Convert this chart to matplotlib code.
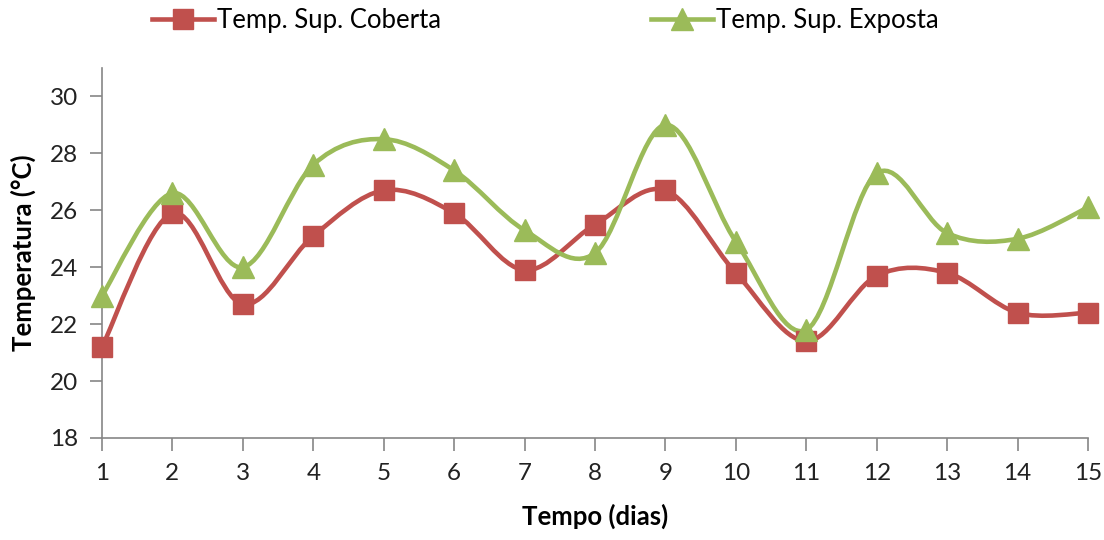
import matplotlib
matplotlib.use("Agg")
import matplotlib.pyplot as plt
from matplotlib.path import Path
from matplotlib.patches import PathPatch
from matplotlib.lines import Line2D
import numpy as np

dias = list(range(1, 16))
coberta = [21.2, 25.9, 22.7, 25.1, 26.7, 25.9, 23.9, 25.5, 26.7, 23.8, 21.4, 23.7, 23.8, 22.4, 22.4]
exposta = [23.0, 26.6, 24.0, 27.6, 28.5, 27.4, 25.3, 24.5, 29.0, 24.9, 21.8, 27.3, 25.2, 25.0, 26.1]
labels = ["Temp. Sup. Coberta", "Temp. Sup. Exposta"]
yticks = [18, 20, 22, 24, 26, 28, 30]

RED = "#C0504D"
GREEN = "#9BBB59"
FONT = "Lato"

plt.rcParams['font.family'] = [FONT, 'DejaVu Sans']

fig = plt.figure(figsize=(11.04, 5.40), dpi=100)
ax = fig.add_axes([102/1104, 1-438/540, (1088-102)/1104, (438-68)/540])


def smooth_path(x, y):
    pts = np.column_stack([x, y]).astype(float)
    n = len(pts)
    verts = [pts[0]]
    codes = [Path.MOVETO]
    for i in range(n - 1):
        p0 = pts[i - 1] if i > 0 else pts[i]
        p1 = pts[i]
        p2 = pts[i + 1]
        p3 = pts[i + 2] if i + 2 < n else pts[i + 1]
        c1 = p1 + (p2 - p0) / 6.0
        c2 = p2 - (p3 - p1) / 6.0
        verts += [c1, c2, p2]
        codes += [Path.CURVE4] * 3
    return Path(verts, codes)


for ys, col, mk, ms in [(coberta, RED, 's', 15), (exposta, GREEN, '^', 16)]:
    patch = PathPatch(smooth_path(dias, ys), fill=False, edgecolor=col, lw=3.3,
                      capstyle='round', joinstyle='round', clip_on=False, zorder=3)
    ax.add_patch(patch)
    ax.plot(dias, ys, linestyle='none', marker=mk, markersize=ms, color=col,
            clip_on=False, zorder=4)

ax.set_xlim(1, 15)
ax.set_ylim(18, 31)
ax.set_xticks(dias)
ax.set_yticks(yticks)
ax.tick_params(axis='both', which='major', length=9, width=1.2, color="#868686",
               labelsize=17.5, labelcolor="#222222")
ax.tick_params(axis='x', pad=9)
ax.tick_params(axis='y', pad=8)
for s in ['top', 'right']:
    ax.spines[s].set_visible(False)
for s in ['left', 'bottom']:
    ax.spines[s].set_color("#868686")
    ax.spines[s].set_linewidth(1.2)

ax.set_xlabel("Tempo (dias)", fontsize=18.5, fontweight='bold', labelpad=14)
ax.set_ylabel("Temperatura (°C)", fontsize=18.5, fontweight='bold', labelpad=10)

handles = [
    Line2D([], [], color=RED, lw=3.3, marker='s', markersize=15),
    Line2D([], [], color=GREEN, lw=3.3, marker='^', markersize=16),
]
fig.legend(handles, labels, loc='center', bbox_to_anchor=(0.494, 0.962), ncol=2,
           frameon=False, fontsize=18.5, columnspacing=8.2, handlelength=2.4,
           handletextpad=0.1)

fig.savefig("out.png", dpi=100, facecolor='white')
